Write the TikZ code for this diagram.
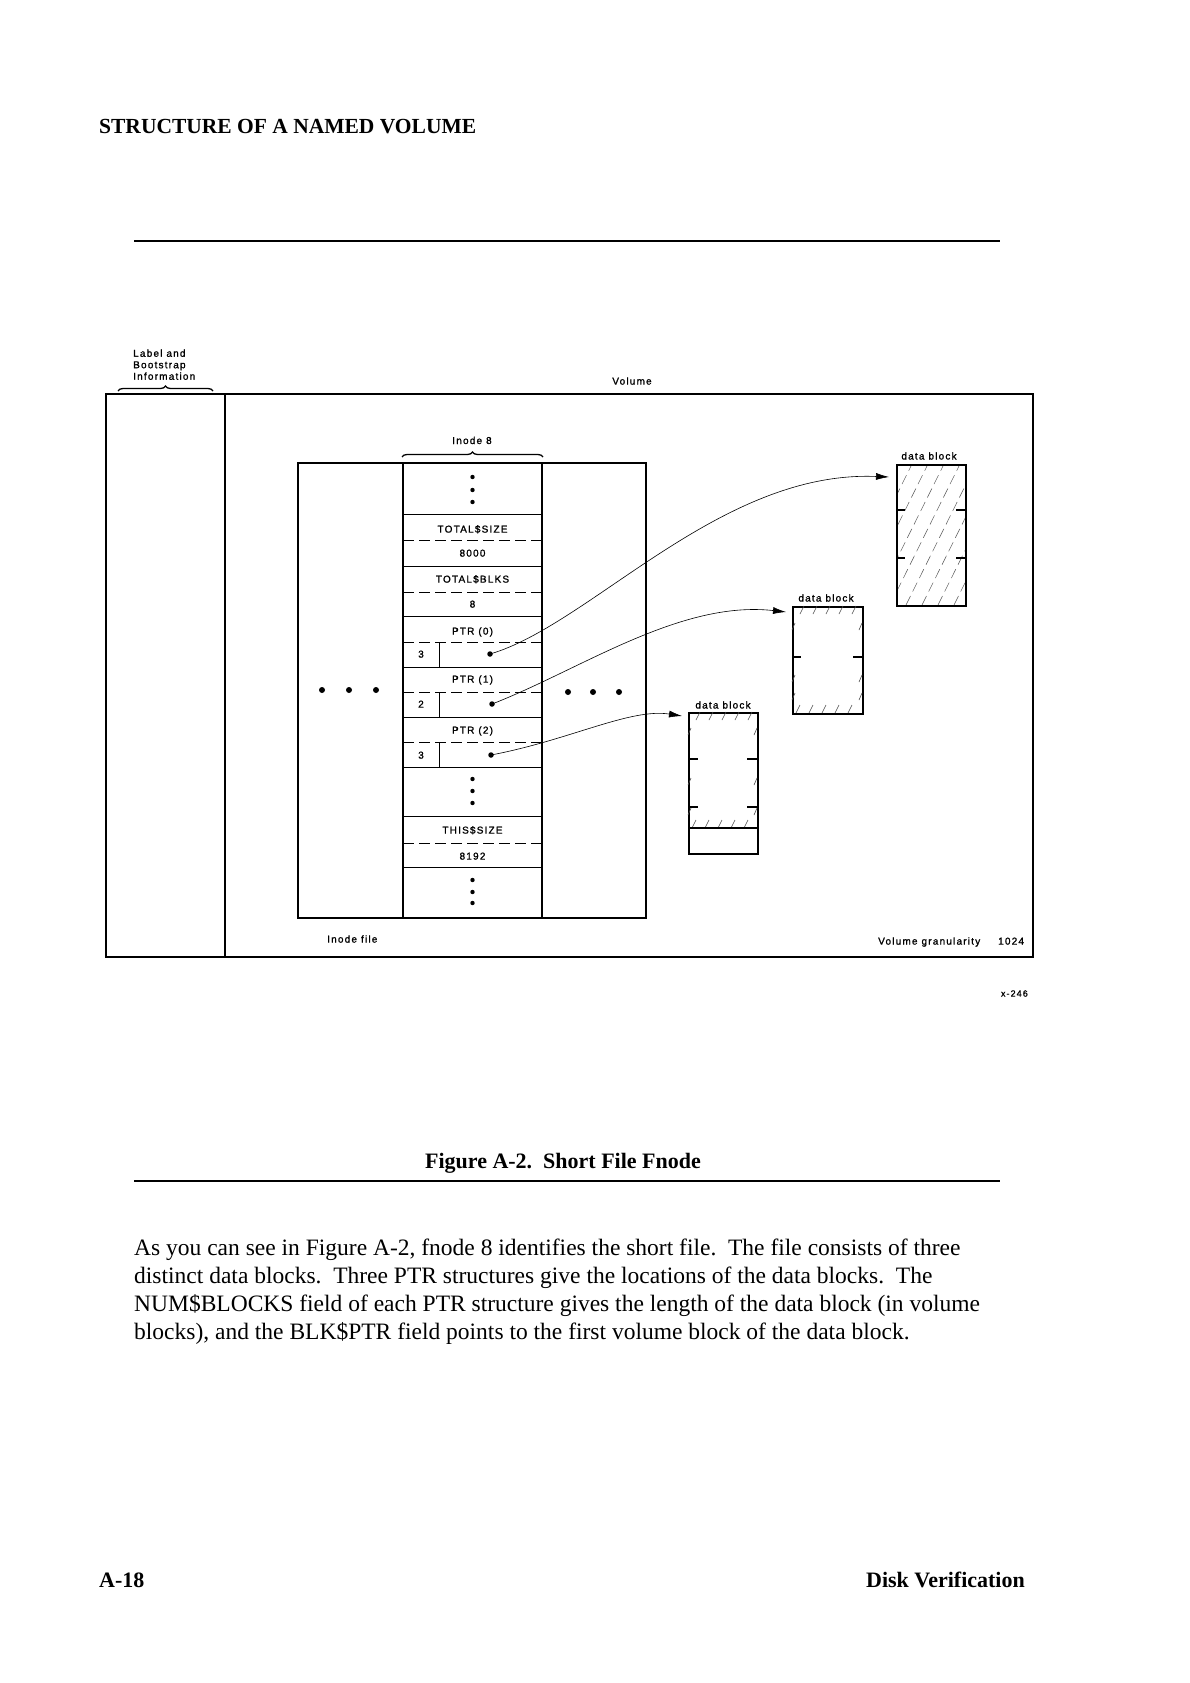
\documentclass[tikz,border=0pt]{standalone}
\usepackage{fontspec}
\setmainfont{Liberation Serif}
\newfontfamily\dgfont{Liberation Sans}[LetterSpace=12, FakeBold=1.2]
\usetikzlibrary{arrows.meta,decorations.pathreplacing}

\begin{document}
\begin{tikzpicture}[x=1pt,y=-1pt,
  lbl/.style={font=\dgfont\fontsize{10}{11.5}\selectfont, inner sep=0pt},
  thickbox/.style={line width=2.2pt},
  colline/.style={line width=1.4pt},
  sepline/.style={line width=0.9pt},
  dashsep/.style={line width=0.9pt, dash pattern=on 11pt off 5pt},
  ptrdot/.style={circle, fill=black, inner sep=0pt, minimum size=5.5pt},
  conn/.style={line width=0.6pt, -{Latex[length=13pt,width=7pt]}},
  blockbox/.style={draw, line width=1.8pt, inner sep=0pt, anchor=north west},
  tickmark/.style={line width=1.6pt},
  hatch/.style={line width=0.5pt, black!65, dash pattern=on 10pt off 5pt},
  hmark/.style={line width=0.6pt, black!70},
  lbrace/.style={decorate, decoration={brace, amplitude=5pt}, line width=1.3pt},
  serifbold/.style={font=\bfseries\fontsize{22}{24}\selectfont, inner sep=0pt},
  bodytext/.style={font=\fontsize{23.5}{28}\selectfont, inner sep=0pt, anchor=base west}
]
\fill[white] (0,0) rectangle (1190,1683);
\useasboundingbox (0,0) rectangle (1190,1683);

% page header
\node[serifbold, font=\bfseries\fontsize{21.5}{24}\selectfont, anchor=base west] (title) at (99,134) {STRUCTURE OF A NAMED VOLUME};
\draw[line width=1.4pt] (134,241) -- (1000,241);

% volume box
\draw[thickbox] (106,394) rectangle (1033,957);
\draw[colline] (225,394) -- (225,957);
\node[lbl, align=left, anchor=north west] (lbi) at (133,349.3) {Label and\\Bootstrap\\Information};
\draw[lbrace] (118,391) -- (213,391);
\node[lbl, anchor=base] (vol) at (632,384.6) {Volume};

% inode file
\draw[line width=2pt] (298,463) rectangle (646,918);
\draw[colline] (403,463) -- (403,918);
\draw[colline] (542,463) -- (542,918);
\node[lbl, anchor=base] (i8) at (472,444) {Inode 8};
\draw[lbrace] (402,457) -- (543,457);

\foreach \y in {514,566,616,667,717,767,816,867} \draw[sepline] (403,\y) -- (542,\y);
\foreach \y in {540,592,642,692,742,843} \draw[dashsep] (403,\y) -- (542,\y);

\node[lbl, anchor=base] (f1) at (472.5,532.6) {TOTAL\$SIZE};
\node[lbl, anchor=base] (f2) at (472.5,556.6) {8000};
\node[lbl, anchor=base] (f3) at (472.5,582.6) {TOTAL\$BLKS};
\node[lbl, anchor=base] (f4) at (472.5,607.6) {8};
\node[lbl, anchor=base] (f5) at (472.5,634.6) {PTR (0)};
\node[lbl, anchor=base] (f6) at (472.5,682.6) {PTR (1)};
\node[lbl, anchor=base] (f7) at (472.5,733.6) {PTR (2)};
\node[lbl, anchor=base] (f8) at (472.5,833.6) {THIS\$SIZE};
\node[lbl, anchor=base] (f9) at (472.5,859.6) {8192};

\node[lbl, anchor=base] (n0) at (421,657.6) {3};
\node[lbl, anchor=base] (n1) at (421,707.6) {2};
\node[lbl, anchor=base] (n2) at (421,758.6) {3};
\draw[sepline] (439,642) -- (439,667);
\draw[sepline] (439,692) -- (439,717);
\draw[sepline] (439,742) -- (439,767);

\node[ptrdot] (p0) at (490,654) {};
\node[ptrdot] (p1) at (492,704) {};
\node[ptrdot] (p2) at (491,755) {};

\foreach \y in {477,490,502,779,791,803,880,892,903} \fill (472.5,\y) circle (2.2pt);
\foreach \x in {322,349,376} \fill (\x,690) circle (3pt);
\foreach \x in {568,593,619} \fill (\x,692) circle (3pt);

% data block 1
\begin{scope}
\clip (896,464) rectangle (965,605);
\foreach \k in {0,...,9} \draw[hatch] (826+\k*16,605) -- (896+\k*16,464);
\end{scope}
\node[blockbox, minimum width=69pt, minimum height=141pt] (b1) at (896,464) {};
\node[lbl, anchor=base] (b1l) at (929,459.5) {data block};
\foreach \y in {510,558} {\draw[tickmark] (896,\y) -- (905,\y); \draw[tickmark] (956,\y) -- (965,\y);}

% data block 2
\node[blockbox, minimum width=70pt, minimum height=107pt] (b2) at (792,606) {};
\foreach \k in {0,...,4} {
  \draw[hmark] (800+\k*13,614) -- (804+\k*13,606);
  \draw[hmark] (796+\k*13,713) -- (800+\k*13,705);}
\foreach \y in {630,682,700} {\draw[hmark] (792,\y) -- (795,\y-7); \draw[hmark] (859,\y) -- (862,\y-7);}
\node[lbl, anchor=base] (b2l) at (826,601.5) {data block};
\draw[tickmark] (792,657) -- (801,657); \draw[tickmark] (853,657) -- (862,657);

% data block 3
\node[blockbox, minimum width=69pt, minimum height=141pt] (b3) at (688,712) {};
\foreach \k in {0,...,4} {
  \draw[hmark] (696+\k*13,720) -- (700+\k*13,712);
  \draw[hmark] (692+\k*13,828) -- (696+\k*13,820);}
\foreach \y in {735,785,815} {\draw[hmark] (688,\y) -- (691,\y-7); \draw[hmark] (754,\y) -- (757,\y-7);}
\draw[line width=1.5pt] (688,828) -- (757,828);
\node[lbl, anchor=base] (b3l) at (723,708.5) {data block};
\foreach \y in {759,807} {\draw[tickmark] (688,\y) -- (698,\y); \draw[tickmark] (747,\y) -- (757,\y);}

% pointers
\coordinate (t1) at (889,477);
\coordinate (t2) at (786,612);
\coordinate (t3) at (682,716);
\draw[conn] (p0.center) .. controls (590,625) and (720,470) .. (t1);
\draw[conn] (p1.center) .. controls (580,670) and (680,600) .. (t2);
\draw[conn] (p2.center) .. controls (570,740) and (630,708) .. (t3);

% bottom labels
\node[lbl, anchor=base west] (ifile) at (327,942.6) {Inode file};
\node[lbl, anchor=base west] (vg) at (878,944.6) {Volume granularity};
\node[lbl, anchor=base west] (vgn) at (998,944.6) {1024};
\node[lbl, anchor=base east, font=\dgfont\fontsize{9}{10}\selectfont] (xref) at (1028,996.6) {x-246};

% caption
\node[serifbold, anchor=base] (cap) at (563,1168) {Figure A-2.\ \ Short File Fnode};
\draw[line width=1.4pt] (134,1181) -- (1000,1181);

% body
\node[bodytext] (l1) at (134,1255) {As you can see in Figure A-2, fnode 8 identifies the short file.\ \ The file consists of three};
\node[bodytext] (l2) at (134,1283) {distinct data blocks.\ \ Three PTR structures give the locations of the data blocks.\ \ The};
\node[bodytext] (l3) at (134,1311) {NUM\$BLOCKS field of each PTR structure gives the length of the data block (in volume};
\node[bodytext] (l4) at (134,1339) {blocks), and the BLK\$PTR field points to the first volume block of the data block.};

% footer
\node[serifbold, anchor=base west] (pg) at (99,1587) {A-18};
\node[serifbold, anchor=base east] (sec) at (1025,1587) {Disk Verification};
\end{tikzpicture}
\end{document}
